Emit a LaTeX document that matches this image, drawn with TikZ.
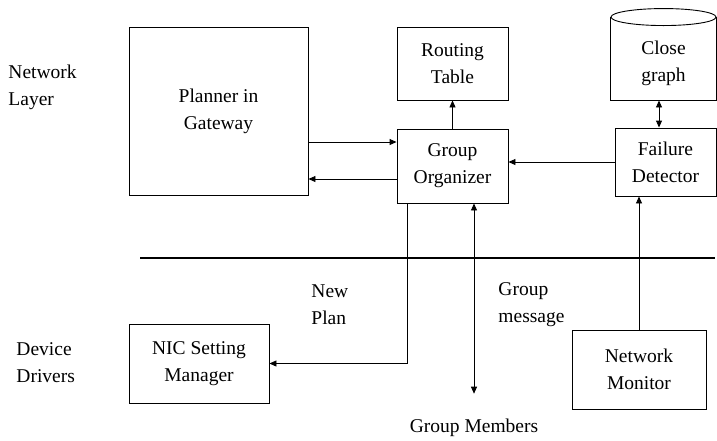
\documentclass[tikz,border=0pt]{standalone}
\usepackage{fontspec}
\setmainfont{LiberationSerif}[Extension=.ttf,UprightFont=*-Regular,BoldFont=*-Bold]
\usetikzlibrary{arrows.meta}

\begin{document}
\begin{tikzpicture}[x=1pt,y=-1pt,line width=0.9pt,
        >={Triangle[length=7pt,width=6pt]},
        box/.style={draw,align=center,inner sep=0pt},
        lbl/.style={align=left,anchor=west,inner sep=0pt}]
        \useasboundingbox (0,0) rectangle (717,440);
        \fontsize{19.5}{27}\selectfont
        \node[box,minimum width=179pt,minimum height=168pt] (planner) at (218.5,111) {Planner in\\Gateway};
        \node[box,minimum width=111pt,minimum height=73pt] (rt) at (452.5,63.5) {Routing\\Table};
        \node[box,minimum width=111pt,minimum height=74pt] (go) at (452.5,166) {Group\\Organizer};
        \node[box,minimum width=101pt,minimum height=68pt] (fd) at (665.5,162) {Failure\\Detector};
        \node[box,draw=none,minimum width=105pt,minimum height=74pt] (cg) at (663.5,63) {Close\\graph};
        \draw ([yshift=8.5pt]cg.north west) -- (cg.south west) -- (cg.south east) -- ([yshift=8.5pt]cg.north east);
        \draw ([yshift=8.5pt]cg.north) ellipse [x radius=52.5pt,y radius=8.5pt];
        \node[box,minimum width=140pt,minimum height=79pt] (nic) at (199,363.5) {NIC Setting\\Manager};
        \node[box,minimum width=134pt,minimum height=79pt] (nm) at (639,369.5) {Network\\Monitor};
        \node[lbl] (netlayer) at (8,87) {Network\\Layer};
        \node[lbl] (devdrv) at (16,363) {Device\\Drivers};
        \node[lbl] (newplan) at (311,305) {New\\Plan};
        \node[lbl] (grpmsg) at (498,305) {Group\\message};
        \node[inner sep=0pt] (gmem) at (474,428) {Group Members};
        \coordinate (sepl) at (140,258);
        \coordinate (sepr) at (715,258);
        \draw[line width=2.5pt] (sepl) -- (sepr);
        \coordinate (toplan) at ([yshift=24pt]go.west);
        \coordinate (frplan) at ([yshift=-13pt]go.west);
        \coordinate (gmtop) at ([xshift=21.5pt]go.south);
        \draw[->] (go.north) -- (rt.south);
        \draw[<->] ([xshift=-6.5pt]fd.north) -- ([xshift=-6.5pt]fd.north |- cg.south);
        \draw[->] (fd.west) -- (fd.west -| go.east);
        \draw[->] (toplan -| planner.east) -- (toplan);
        \draw[->] (frplan) -- (frplan -| planner.east);
        \draw[->] ([xshift=-45.5pt]go.south) |- (nic.east);
        \draw[<->] (gmtop) -- ([yshift=25pt]gmem.north -| gmtop);
        \draw[->] (nm.north) -- (nm.north |- fd.south);
\end{tikzpicture}
\end{document}
